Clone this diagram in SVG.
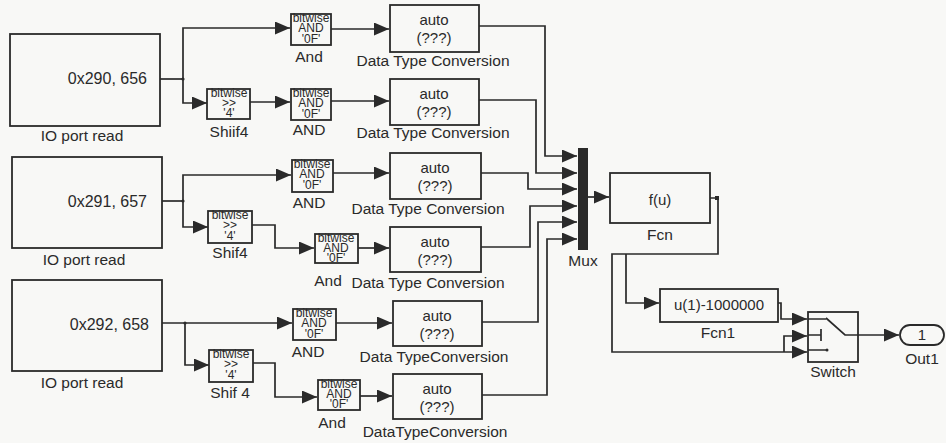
<svg xmlns="http://www.w3.org/2000/svg" width="946" height="443" viewBox="0 0 946 443">
<style>
.bg{fill:#f8f8f6}
.blk{fill:none;stroke:#2a2a2a;stroke-width:1.8}
.w{fill:none;stroke:#2a2a2a;stroke-width:1.7}
text{font-family:"Liberation Sans",Arial,sans-serif;fill:#2a2a2a}
.lbl{font-size:15.5px;text-anchor:middle}
.io{font-size:16px;text-anchor:end}
.in{font-size:15px;text-anchor:middle}
.bw{font-size:12px;text-anchor:middle}
</style>
<defs>
<marker id="ar" markerUnits="userSpaceOnUse" markerWidth="15" markerHeight="13" refX="15" refY="6.5" orient="auto">
<path d="M0,0 L15,6.5 L0,13 z" fill="#2a2a2a"/>
</marker>
</defs>
<rect class="bg" x="0" y="0" width="946" height="443"/>

<g id="connectors">
<path class="w" d="M160,79 H183"/>
<path class="w" d="M183,79 V28 H290" marker-end="url(#ar)"/>
<path class="w" d="M183,79 V103 H207" marker-end="url(#ar)"/>
<path class="w" d="M250,102 H290" marker-end="url(#ar)"/>
<path class="w" d="M331,29 H389" marker-end="url(#ar)"/>
<path class="w" d="M331,101 H389" marker-end="url(#ar)"/>
<path class="w" d="M479,26 H545 V156 H577" marker-end="url(#ar)"/>
<path class="w" d="M479,100 H536 V173 H577" marker-end="url(#ar)"/>

<path class="w" d="M162,201 H183"/>
<path class="w" d="M183,201 V175 H291" marker-end="url(#ar)"/>
<path class="w" d="M183,201 V227 H208" marker-end="url(#ar)"/>
<path class="w" d="M252,225 H275 V248 H314" marker-end="url(#ar)"/>
<path class="w" d="M333,173 H389" marker-end="url(#ar)"/>
<path class="w" d="M358,248 H389" marker-end="url(#ar)"/>
<path class="w" d="M481,173 H528 V189 H577" marker-end="url(#ar)"/>
<path class="w" d="M481,247 H530 V206 H577" marker-end="url(#ar)"/>

<path class="w" d="M162,323 H292" marker-end="url(#ar)"/>
<path class="w" d="M185,323 V365 H209" marker-end="url(#ar)"/>
<path class="w" d="M253,363 H275 V397 H317" marker-end="url(#ar)"/>
<path class="w" d="M336,323 H392" marker-end="url(#ar)"/>
<path class="w" d="M360,396 H392" marker-end="url(#ar)"/>
<path class="w" d="M482,322 H538 V222 H577" marker-end="url(#ar)"/>
<path class="w" d="M482,395 H547 V239 H577" marker-end="url(#ar)"/>

<path class="w" d="M588,197 H609" marker-end="url(#ar)"/>
<path class="w" d="M710,198 H718 V254 H612 V352 H807" marker-end="url(#ar)"/>
<path class="w" d="M626,254 V303 H659" marker-end="url(#ar)"/>
<path class="w" d="M784,352 V336 H807" marker-end="url(#ar)"/>
<path class="w" d="M778,303 H781 V319 H807" marker-end="url(#ar)"/>
<path class="w" d="M858,335 H899" marker-end="url(#ar)"/>
<rect x="715" y="196" width="4" height="4" fill="#2a2a2a"/>
<circle cx="183" cy="79" r="1.6" fill="#2a2a2a"/>
<circle cx="183" cy="201" r="1.6" fill="#2a2a2a"/>
<circle cx="185" cy="323" r="1.6" fill="#2a2a2a"/>
</g>

<g id="io1">
<rect class="blk" x="10" y="34" width="150" height="92"/>
<text class="io" x="147" y="84">0x290, 656</text>
<text class="lbl" x="82" y="141">IO port read</text>
</g>
<g id="io2">
<rect class="blk" x="12" y="157" width="150" height="91"/>
<text class="io" x="147" y="207">0x291, 657</text>
<text class="lbl" x="84" y="265">IO port read</text>
</g>
<g id="io3">
<rect class="blk" x="12" y="280" width="150" height="91"/>
<text class="io" x="149" y="330">0x292, 658</text>
<text class="lbl" x="82" y="388">IO port read</text>
</g>

<g id="shift1">
<rect class="blk" x="207" y="89" width="43" height="30"/>
<text class="bw" x="229" y="97">bitwise</text>
<text class="bw" x="229" y="107">&gt;&gt;</text>
<text class="bw" x="229" y="117">'4'</text>
<text class="lbl" x="229" y="137">Shiif4</text>
</g>
<g id="shift2">
<rect class="blk" x="208" y="211" width="44" height="32"/>
<text class="bw" x="230" y="219">bitwise</text>
<text class="bw" x="230" y="229">&gt;&gt;</text>
<text class="bw" x="230" y="240">'4'</text>
<text class="lbl" x="230" y="258">Shif4</text>
</g>
<g id="shift3">
<rect class="blk" x="209" y="350" width="44" height="32"/>
<text class="bw" x="231" y="358">bitwise</text>
<text class="bw" x="231" y="368">&gt;&gt;</text>
<text class="bw" x="231" y="379">'4'</text>
<text class="lbl" x="230" y="398">Shif 4</text>
</g>

<g id="and1">
<rect class="blk" x="291" y="14" width="40" height="31"/>
<text class="bw" x="311" y="22">bitwise</text>
<text class="bw" x="311" y="32">AND</text>
<text class="bw" x="311" y="43">'0F'</text>
<text class="lbl" x="309" y="62">And</text>
</g>
<g id="and2">
<rect class="blk" x="291" y="89" width="40" height="31"/>
<text class="bw" x="311" y="97">bitwise</text>
<text class="bw" x="311" y="107">AND</text>
<text class="bw" x="311" y="118">'0F'</text>
<text class="lbl" x="309" y="135">AND</text>
</g>
<g id="and3">
<rect class="blk" x="292" y="160" width="41" height="32"/>
<text class="bw" x="312" y="168">bitwise</text>
<text class="bw" x="312" y="178">AND</text>
<text class="bw" x="312" y="189">'0F'</text>
<text class="lbl" x="309" y="208">AND</text>
</g>
<g id="and4">
<rect class="blk" x="315" y="234" width="43" height="29"/>
<text class="bw" x="336" y="242">bitwise</text>
<text class="bw" x="336" y="252">AND</text>
<text class="bw" x="336" y="262">'0F'</text>
<text class="lbl" x="328" y="286">And</text>
</g>
<g id="and5">
<rect class="blk" x="293" y="309" width="43" height="31"/>
<text class="bw" x="314" y="317">bitwise</text>
<text class="bw" x="314" y="327">AND</text>
<text class="bw" x="314" y="338">'0F'</text>
<text class="lbl" x="308" y="357">AND</text>
</g>
<g id="and6">
<rect class="blk" x="318" y="380" width="42" height="30"/>
<text class="bw" x="339" y="388">bitwise</text>
<text class="bw" x="339" y="398">AND</text>
<text class="bw" x="339" y="408">'0F'</text>
<text class="lbl" x="332" y="428">And</text>
</g>

<g id="dtc1">
<rect class="blk" x="390" y="5" width="89" height="47"/>
<text class="in" x="434" y="25">auto</text>
<text class="in" x="434" y="43">(???)</text>
<text class="lbl" x="433" y="66">Data Type Conversion</text>
</g>
<g id="dtc2">
<rect class="blk" x="390" y="79" width="89" height="46"/>
<text class="in" x="434" y="99">auto</text>
<text class="in" x="434" y="117">(???)</text>
<text class="lbl" x="433" y="138">Data Type Conversion</text>
</g>
<g id="dtc3">
<rect class="blk" x="390" y="153" width="91" height="46"/>
<text class="in" x="435" y="173">auto</text>
<text class="in" x="435" y="191">(???)</text>
<text class="lbl" x="428" y="214">Data Type Conversion</text>
</g>
<g id="dtc4">
<rect class="blk" x="390" y="227" width="91" height="45"/>
<text class="in" x="435" y="247">auto</text>
<text class="in" x="435" y="265">(???)</text>
<text class="lbl" x="428" y="288">Data Type Conversion</text>
</g>
<g id="dtc5">
<rect class="blk" x="393" y="301" width="89" height="45"/>
<text class="in" x="437" y="321">auto</text>
<text class="in" x="437" y="339">(???)</text>
<text class="lbl" x="434" y="362">Data TypeConversion</text>
</g>
<g id="dtc6">
<rect class="blk" x="393" y="374" width="89" height="45"/>
<text class="in" x="437" y="394">auto</text>
<text class="in" x="437" y="412">(???)</text>
<text class="lbl" x="435" y="437">DataTypeConversion</text>
</g>

<g id="mux">
<rect x="578" y="148" width="10" height="102" fill="#2a2a2a"/>
<text class="lbl" x="583" y="266">Mux</text>
</g>

<g id="fcn">
<rect class="blk" x="610" y="173" width="100" height="50"/>
<text class="in" x="660" y="205">f(u)</text>
<text class="lbl" x="660" y="240">Fcn</text>
</g>

<g id="fcn1">
<rect class="blk" x="660" y="289" width="118" height="33"/>
<text class="in" x="719" y="310">u(1)-1000000</text>
<text class="lbl" x="718" y="338">Fcn1</text>
</g>

<g id="switch">
<rect class="blk" x="808" y="312" width="50" height="50"/>
<path class="w" d="M808,319 H826 M826,318 L845,335 H858 M808,335 H821 M821,329 V341 M808,350 H826"/>
<circle cx="827" cy="350" r="1.5" fill="#2a2a2a"/>
<text class="lbl" x="833" y="377">Switch</text>
</g>

<g id="out1">
<rect class="blk" x="900" y="325" width="44" height="20" rx="10"/>
<text class="in" x="922" y="340">1</text>
<text class="lbl" x="922" y="364">Out1</text>
</g>
</svg>
